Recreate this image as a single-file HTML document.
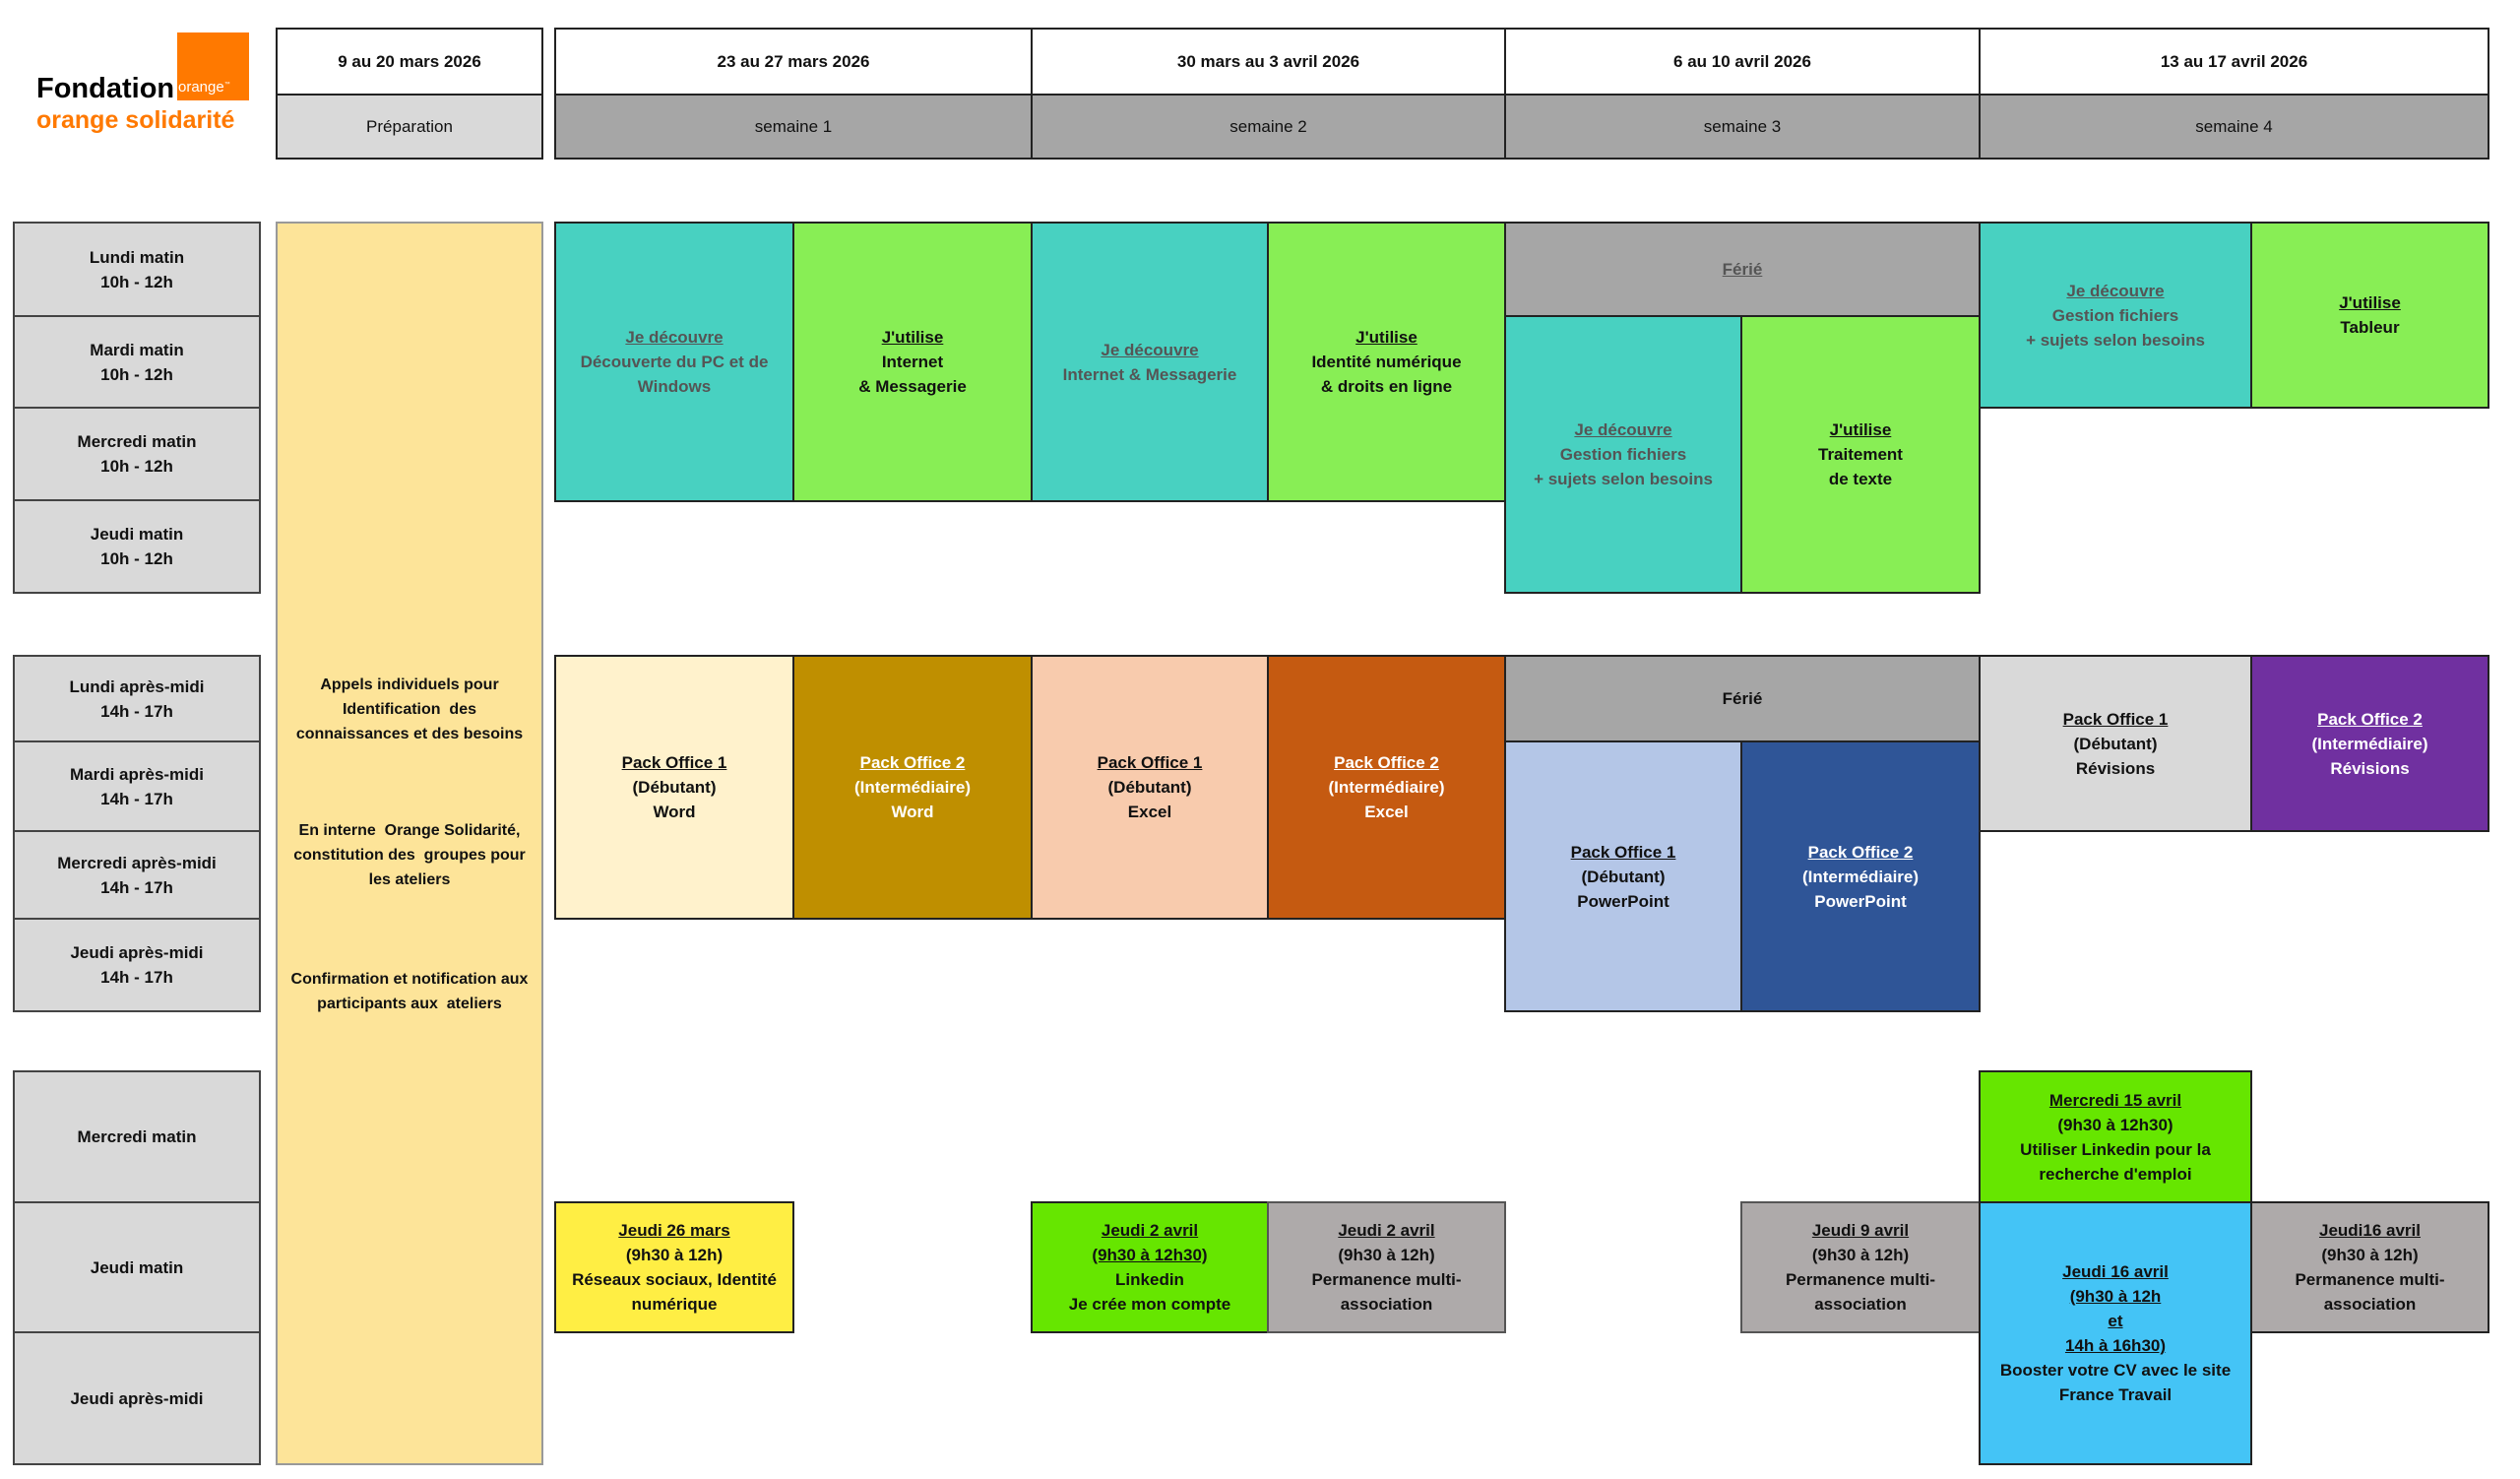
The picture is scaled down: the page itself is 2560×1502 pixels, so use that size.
<!DOCTYPE html>
<html><head><meta charset="utf-8"><style>
body{margin:0;width:2560px;height:1502px;background:#fff;position:relative;overflow:hidden;font-family:"Liberation Sans",sans-serif}
.c{position:absolute;box-sizing:border-box;border:2px solid #222;display:flex;align-items:center;justify-content:center;text-align:center;font-weight:bold;font-size:17px;line-height:25px;color:#111}
.g{color:#555}.w{color:#fff}
u{text-decoration:underline}
.lab{background:#d9d9d9;border-color:#444}
</style></head><body>
<!-- logo -->
<div style="position:absolute;left:180px;top:33px;width:73px;height:69px;background:#ff7900"></div>
<div style="position:absolute;left:181px;top:80px;color:#fff;font-size:15px">orange<sup style="font-size:6px">™</sup></div>
<div style="position:absolute;left:37px;top:74px;font-size:29px;font-weight:bold;color:#000">Fondation</div>
<div style="position:absolute;left:37px;top:108px;font-size:25px;font-weight:bold;color:#ff7900">orange solidarité</div>
<!-- header -->
<div class="c" style="left:280px;top:28px;width:272px;height:69px;background:#fff">9 au 20 mars 2026</div>
<div class="c" style="left:280px;top:95px;width:272px;height:67px;background:#d9d9d9;font-weight:normal">Préparation</div>
<div class="c" style="left:563px;top:28px;width:486px;height:69px;background:#fff">23 au 27 mars 2026</div>
<div class="c" style="left:1047px;top:28px;width:483px;height:69px;background:#fff">30 mars au 3 avril 2026</div>
<div class="c" style="left:1528px;top:28px;width:484px;height:69px;background:#fff">6 au 10 avril 2026</div>
<div class="c" style="left:2010px;top:28px;width:519px;height:69px;background:#fff">13 au 17 avril 2026</div>
<div class="c" style="left:563px;top:95px;width:486px;height:67px;background:#a6a6a6;font-weight:normal">semaine 1</div>
<div class="c" style="left:1047px;top:95px;width:483px;height:67px;background:#a6a6a6;font-weight:normal">semaine 2</div>
<div class="c" style="left:1528px;top:95px;width:484px;height:67px;background:#a6a6a6;font-weight:normal">semaine 3</div>
<div class="c" style="left:2010px;top:95px;width:519px;height:67px;background:#a6a6a6;font-weight:normal">semaine 4</div>
<!-- row labels -->
<div class="c lab" style="left:13px;top:225px;width:252px;height:97px">Lundi matin<br>10h - 12h</div>
<div class="c lab" style="left:13px;top:320px;width:252px;height:95px">Mardi matin<br>10h - 12h</div>
<div class="c lab" style="left:13px;top:413px;width:252px;height:96px">Mercredi matin<br>10h - 12h</div>
<div class="c lab" style="left:13px;top:507px;width:252px;height:96px">Jeudi matin<br>10h - 12h</div>
<div class="c lab" style="left:13px;top:665px;width:252px;height:89px">Lundi après-midi<br>14h - 17h</div>
<div class="c lab" style="left:13px;top:752px;width:252px;height:93px">Mardi après-midi<br>14h - 17h</div>
<div class="c lab" style="left:13px;top:843px;width:252px;height:91px">Mercredi après-midi<br>14h - 17h</div>
<div class="c lab" style="left:13px;top:932px;width:252px;height:96px">Jeudi après-midi<br>14h - 17h</div>
<div class="c lab" style="left:13px;top:1087px;width:252px;height:135px">Mercredi matin</div>
<div class="c lab" style="left:13px;top:1220px;width:252px;height:134px">Jeudi matin</div>
<div class="c lab" style="left:13px;top:1352px;width:252px;height:136px">Jeudi après-midi</div>
<!-- prep -->
<div class="c" style="left:280px;top:225px;width:272px;height:1263px;background:#fde499;border-color:#999;display:block;font-size:16px">
<div style="position:absolute;left:0;right:0;top:456px">Appels individuels pour<br>Identification&nbsp; des<br>connaissances et des besoins</div>
<div style="position:absolute;left:0;right:0;top:604px">En interne&nbsp; Orange Solidarité,<br>constitution des&nbsp; groupes pour<br>les ateliers</div>
<div style="position:absolute;left:0;right:0;top:755px">Confirmation et notification aux<br>participants aux&nbsp; ateliers</div>
</div>
<!-- mornings -->
<div class="c g" style="left:563px;top:225px;width:244px;height:285px;background:#48d1c1"><div><u>Je découvre</u><br>Découverte du PC et de<br>Windows</div></div>
<div class="c" style="left:805px;top:225px;width:244px;height:285px;background:#88ee55"><div><u>J'utilise</u><br>Internet<br>&amp; Messagerie</div></div>
<div class="c g" style="left:1047px;top:225px;width:242px;height:285px;background:#48d1c1"><div><u>Je découvre</u><br>Internet &amp; Messagerie</div></div>
<div class="c" style="left:1287px;top:225px;width:243px;height:285px;background:#88ee55"><div><u>J'utilise</u><br>Identité numérique<br>&amp; droits en ligne</div></div>
<div class="c g" style="left:1528px;top:225px;width:484px;height:97px;background:#a6a6a6"><u>Férié</u></div>
<div class="c g" style="left:1528px;top:320px;width:242px;height:283px;background:#48d1c1"><div><u>Je découvre</u><br>Gestion fichiers<br>+ sujets selon besoins</div></div>
<div class="c" style="left:1768px;top:320px;width:244px;height:283px;background:#88ee55"><div><u>J'utilise</u><br>Traitement<br>de texte</div></div>
<div class="c g" style="left:2010px;top:225px;width:278px;height:190px;background:#48d1c1"><div><u>Je découvre</u><br>Gestion fichiers<br>+ sujets selon besoins</div></div>
<div class="c" style="left:2286px;top:225px;width:243px;height:190px;background:#88ee55"><div><u>J'utilise</u><br>Tableur</div></div>
<!-- afternoons -->
<div class="c" style="left:563px;top:665px;width:244px;height:269px;background:#fff2cc"><div><u>Pack Office 1</u><br>(Débutant)<br>Word</div></div>
<div class="c w" style="left:805px;top:665px;width:244px;height:269px;background:#bf8f00"><div><u>Pack Office 2</u><br>(Intermédiaire)<br>Word</div></div>
<div class="c" style="left:1047px;top:665px;width:242px;height:269px;background:#f8cbad"><div><u>Pack Office 1</u><br>(Débutant)<br>Excel</div></div>
<div class="c w" style="left:1287px;top:665px;width:243px;height:269px;background:#c55a11"><div><u>Pack Office 2</u><br>(Intermédiaire)<br>Excel</div></div>
<div class="c" style="left:1528px;top:665px;width:484px;height:89px;background:#a6a6a6">Férié</div>
<div class="c" style="left:1528px;top:752px;width:242px;height:276px;background:#b4c6e7"><div><u>Pack Office 1</u><br>(Débutant)<br>PowerPoint</div></div>
<div class="c w" style="left:1768px;top:752px;width:244px;height:276px;background:#2f5597"><div><u>Pack Office 2</u><br>(Intermédiaire)<br>PowerPoint</div></div>
<div class="c" style="left:2010px;top:665px;width:278px;height:180px;background:#d9d9d9"><div><u>Pack Office 1</u><br>(Débutant)<br>Révisions</div></div>
<div class="c w" style="left:2286px;top:665px;width:243px;height:180px;background:#7030a0"><div><u>Pack Office 2</u><br>(Intermédiaire)<br>Révisions</div></div>
<!-- bottom -->
<div class="c" style="left:563px;top:1220px;width:244px;height:134px;background:#ffee44"><div><u>Jeudi 26 mars</u><br>(9h30 à 12h)<br>Réseaux sociaux, Identité<br>numérique</div></div>
<div class="c" style="left:1047px;top:1220px;width:242px;height:134px;background:#66e600"><div><u>Jeudi 2 avril</u><br><u>(9h30 à 12h30)</u><br>Linkedin<br>Je crée mon compte</div></div>
<div class="c" style="left:1287px;top:1220px;width:243px;height:134px;background:#aeaaaa;border-color:#555"><div><u>Jeudi 2 avril</u><br>(9h30 à 12h)<br>Permanence multi-<br>association</div></div>
<div class="c" style="left:1768px;top:1220px;width:244px;height:134px;background:#aeaaaa;border-color:#555"><div><u>Jeudi 9 avril</u><br>(9h30 à 12h)<br>Permanence multi-<br>association</div></div>
<div class="c" style="left:2010px;top:1087px;width:278px;height:135px;background:#66e600"><div><u>Mercredi 15 avril</u><br>(9h30 à 12h30)<br>Utiliser Linkedin pour la<br>recherche d'emploi</div></div>
<div class="c" style="left:2286px;top:1220px;width:243px;height:134px;background:#aeaaaa"><div><u>Jeudi16 avril</u><br>(9h30 à 12h)<br>Permanence multi-<br>association</div></div>
<div class="c" style="left:2010px;top:1220px;width:278px;height:268px;background:#44c4f6"><div><u>Jeudi 16 avril</u><br><u>(9h30 à 12h</u><br><u>et</u><br><u>14h à 16h30)</u><br>Booster votre CV avec le site<br>France Travail</div></div>
</body></html>
